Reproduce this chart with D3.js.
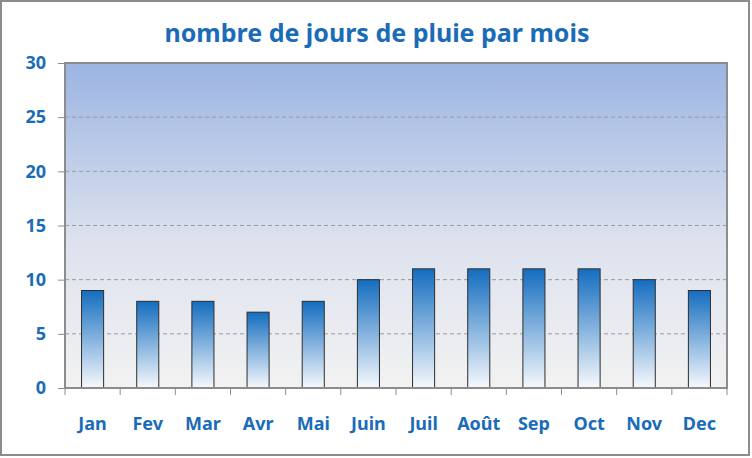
<!DOCTYPE html>
<html>
<head>
<meta charset="utf-8">
<script src="https://cdn.jsdelivr.net/npm/d3@7"></script>
<style>
  body { margin: 0; background: #fff; }
  svg text { font-family: "Noto Sans", "DejaVu Sans", sans-serif; font-weight: bold; fill: #1a6cb8; }
</style>
</head>
<body>
<div id="chart"></div>
<script>
// rainy days per month
const months = ["Jan", "Fev", "Mar", "Avr", "Mai", "Juin", "Juil", "Août", "Sep", "Oct", "Nov", "Dec"];
const rainDays = [9, 8, 8, 7, 8, 10, 11, 11, 11, 11, 10, 9];
const yTicks = [0, 5, 10, 15, 20, 25, 30];

const width = 752, height = 458;
const margin = { t: 63, r: 25, b: 70, l: 65 };
const w = width - margin.l - margin.r;
const h = height - margin.t - margin.b;

const svg = d3.select("#chart").append("svg")
    .attr("width", width)
    .attr("height", height);

const defs = svg.append("defs");
const bg = defs.append("linearGradient").attr("id", "bg").attr("x1", 0).attr("y1", 0).attr("x2", 0).attr("y2", 1);
bg.append("stop").attr("offset", "0%").attr("stop-color", "#9bb4e3");
bg.append("stop").attr("offset", "55%").attr("stop-color", "#dde2ee");
bg.append("stop").attr("offset", "100%").attr("stop-color", "#f2f2f2");

const barGrad = defs.append("linearGradient").attr("id", "barGrad").attr("x1", 0).attr("y1", 0).attr("x2", 0).attr("y2", 1);
barGrad.append("stop").attr("offset", "0%").attr("stop-color", "#146dbf");
barGrad.append("stop").attr("offset", "100%").attr("stop-color", "#f6f9fd");

// outer frame
svg.append("rect").attr("x", 1).attr("y", 1).attr("width", width - 4).attr("height", height - 4)
    .attr("fill", "#fff").attr("stroke", "#8c8c8c").attr("stroke-width", 2);

svg.append("text")
    .attr("x", 377).attr("y", 42)
    .attr("text-anchor", "middle")
    .attr("font-size", "25px")
    .text("nombre de jours de pluie par mois");

const g = svg.append("g").attr("transform", `translate(${margin.l},${margin.t})`);

const x = d3.scaleBand().domain(months).range([0, w]).paddingInner(0.6).paddingOuter(0.3);
const y = d3.scaleLinear().domain([0, 30]).range([h, 0]);

g.append("rect").attr("width", w).attr("height", h).attr("fill", "url(#bg)");

// grid
g.selectAll(".grid").data(yTicks.filter(t => t > 0 && t < 30)).join("line")
    .attr("class", "grid")
    .attr("x1", 0).attr("x2", w)
    .attr("y1", d => y(d)).attr("y2", d => y(d))
    .attr("stroke", "#9a9a9a").attr("stroke-dasharray", "4,3").attr("stroke-width", 1);

g.selectAll(".bar").data(rainDays).join("rect")
    .attr("class", "bar")
    .attr("x", (d, i) => x(months[i]))
    .attr("y", d => y(d))
    .attr("width", x.bandwidth())
    .attr("height", d => h - y(d))
    .attr("fill", "url(#barGrad)")
    .attr("stroke", "#2e2e2e").attr("stroke-width", 1);

// plot border
g.append("rect").attr("width", w).attr("height", h)
    .attr("fill", "none").attr("stroke", "#8c8c8c").attr("stroke-width", 2);

// y axis
const yAxis = g.append("g").call(d3.axisLeft(y).tickValues(yTicks).tickSize(7).tickPadding(12));
yAxis.select(".domain").remove();
yAxis.selectAll("line").attr("stroke", "#8c8c8c");
yAxis.selectAll("text").attr("font-size", "18px").attr("fill", "#1a6cb8");

// x axis: ticks at band boundaries
const xb = d3.range(months.length + 1).map(i => i * w / months.length);
g.selectAll(".xtick").data(xb).join("line")
    .attr("class", "xtick")
    .attr("x1", d => d).attr("x2", d => d)
    .attr("y1", h).attr("y2", h + 7)
    .attr("stroke", "#8c8c8c");

g.selectAll(".xlab").data(months).join("text")
    .attr("class", "xlab")
    .attr("x", d => x(d) + x.bandwidth() / 2)
    .attr("y", h + 42)
    .attr("text-anchor", "middle")
    .attr("font-size", "18px")
    .text(d => d);
</script>
</body>
</html>
